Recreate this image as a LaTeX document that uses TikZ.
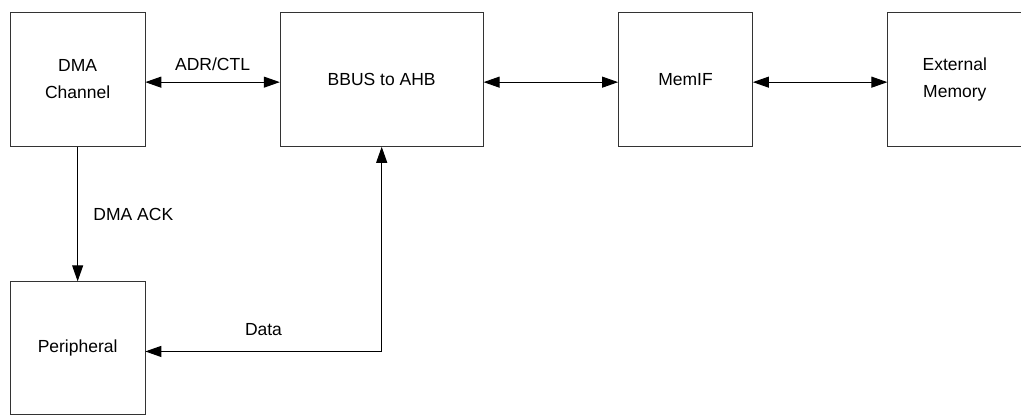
\documentclass[tikz,border=0pt]{standalone}
\usepackage{fontspec}
\setmainfont{Liberation Sans}
\usetikzlibrary{arrows.meta,positioning}

\begin{document}
\begin{tikzpicture}[
  x=1pt, y=1pt,
  node distance=134.5pt and 134.5pt,
  block/.style={draw=black!80, line width=0.8pt, minimum width=134.5pt, minimum height=134.5pt, align=center, inner sep=2pt, font=\fontsize{17.5}{27}\selectfont},
  link/.style={line width=1pt, {Triangle[length=16pt,width=11pt]}-{Triangle[length=16pt,width=11pt]}},
  oneway/.style={line width=1pt, -{Triangle[length=16pt,width=11pt]}},
  lbl/.style={font=\fontsize{17.5}{21}\selectfont},
]
\useasboundingbox (0,0) rectangle (1021,-415);

% top row
\node[block, anchor=north west] (dma) at (10,-11.5) {DMA\\Channel};
\node[block, minimum width=203pt, right=of dma] (bbus) {BBUS to AHB};
\node[block, minimum width=134pt, right=of bbus] (memif) {MemIF};
\node[block, minimum width=134pt, right=of memif] (extmem) {External\\Memory};

% peripheral below
\node[block, minimum height=132.5pt, below=of dma] (periph) {Peripheral};

% connectors
\draw[link] ([yshift=-3pt]dma.east) -- node[lbl, above=8pt] {ADR/CTL} ([yshift=-3pt]bbus.west);
\draw[link] ([yshift=-3pt]bbus.east) -- ([yshift=-3pt]memif.west);
\draw[link] ([yshift=-3pt]memif.east) -- ([yshift=-3pt]extmem.west);
\draw[oneway] (dma.south) -- node[lbl, right=12pt] {DMA ACK} (periph.north);
\draw[link] (bbus.south) |- node[lbl, pos=0.75, above=12pt] {Data} ([yshift=-3.5pt]periph.east);

\end{tikzpicture}
\end{document}
